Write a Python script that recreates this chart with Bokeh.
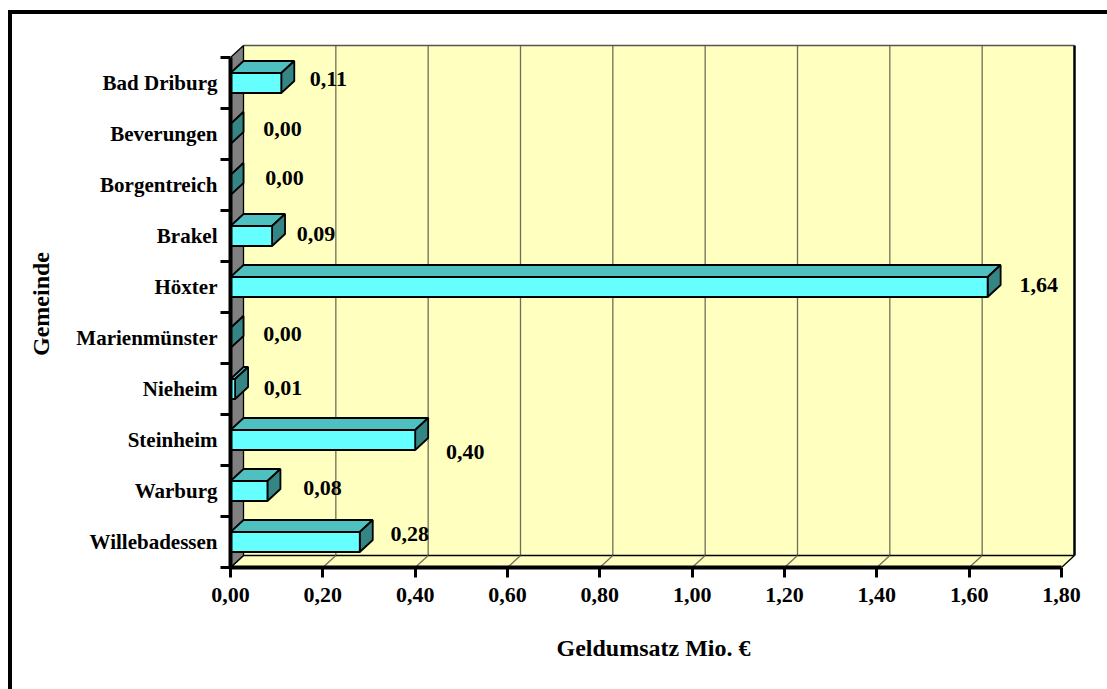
from bokeh.plotting import figure
from bokeh.models import FixedTicker, ColumnDataSource, Range1d
from bokeh.embed import file_html
from bokeh.resources import INLINE

# Data
gemeinden = ["Bad Driburg", "Beverungen", "Borgentreich", "Brakel", "Höxter",
             "Marienmünster", "Nieheim", "Steinheim", "Warburg", "Willebadessen"]
umsatz = [0.11, 0.00, 0.00, 0.09, 1.64, 0.00, 0.01, 0.40, 0.08, 0.28]
x_ticks = [0.0, 0.2, 0.4, 0.6, 0.8, 1.0, 1.2, 1.4, 1.6, 1.8]
x_tick_labels = ["0,00", "0,20", "0,40", "0,60", "0,80", "1,00", "1,20", "1,40", "1,60", "1,80"]

# Label nudges in screen pixels (styling only)
label_dx = [47, 52, 54, 44, 51, 52, 48, 50, 55, 50]
label_dy = [-4, -5, -7, -2, -2, -4, -1, 12, -3, -8]

FONT = "Liberation Serif"
PX_PER_UNIT = 461.67      # horizontal scale of the front plane
PX_PER_CAT = 51.0         # height of one category band
N = len(gemeinden)
XMAX = x_ticks[-1]

DX = 13 / PX_PER_UNIT     # 3-D depth, horizontal part
DY = 12 / PX_PER_CAT      # 3-D depth, vertical part
H = 20 / PX_PER_CAT       # bar thickness

centers = [N - i - 0.5 for i in range(N)]

p = figure(width=1107, height=689, output_backend="svg", toolbar_location=None,
           x_range=Range1d(0, 846 / PX_PER_UNIT), y_range=Range1d(0, N + 17 / PX_PER_CAT),
           min_border_left=230, min_border_right=31, min_border_top=40, min_border_bottom=122)
p.outline_line_color = None
p.background_fill_color = "white"
p.border_fill_color = None
p.xgrid.visible = False
p.ygrid.visible = False
# Black frame lines along the top and left edge of the page
p.styles = {"box-shadow": "inset 8px 10px 0 0 white, inset 12px 14px 0 0 black",
            "background-color": "white"}

# Back wall
p.quad(left=DX, right=XMAX + DX, bottom=DY, top=N + DY, fill_color="#FFFFC0", line_color=None)
# Gridlines on the wall and the floor
gx = x_ticks[1:-1]
p.segment(x0=[t + DX for t in gx], y0=[DY] * len(gx), x1=[t + DX for t in gx], y1=[N + DY] * len(gx),
          line_color="#6f6f5a", line_width=1.3)
# Wall border
p.line(x=[DX, XMAX + DX], y=[N + DY, N + DY], line_color="#555555", line_width=1.5)
p.line(x=[XMAX + DX, XMAX + DX], y=[DY, N + DY], line_color="black", line_width=2.5)
# Floor
p.patch(x=[0, XMAX, XMAX + DX, DX], y=[0, 0, DY, DY], fill_color="#FFFFC0",
        line_color="black", line_width=1.3)
p.segment(x0=gx, y0=[0] * len(gx), x1=[t + DX for t in gx], y1=[DY] * len(gx),
          line_color="#6f6f5a", line_width=1.3)
# Left wall
p.patch(x=[0, DX, DX, 0], y=[0, DY, N + DY, N], fill_color="#808080",
        line_color="black", line_width=1.3)

# Bars: front, top and side faces
top_xs, top_ys, side_xs, side_ys = [], [], [], []
for v, c in zip(umsatz, centers):
    b, t = c - H / 2, c + H / 2
    top_xs.append([0, v, v + DX, DX])
    top_ys.append([t, t, t + DY, t + DY])
    side_xs.append([v, v, v + DX, v + DX])
    side_ys.append([b, t, t + DY, b + DY])

p.patches(xs=top_xs, ys=top_ys, fill_color="#4FC0C0", line_color="black", line_width=1.8)
p.patches(xs=side_xs, ys=side_ys, fill_color="#358585", line_color="black", line_width=1.8)
p.quad(left=[0] * N, right=umsatz, bottom=[c - H / 2 for c in centers],
       top=[c + H / 2 for c in centers], fill_color="#66FFFF", line_color="black", line_width=1.8)

# Value labels
src = ColumnDataSource(dict(x=umsatz, y=centers,
                            txt=[f"{v:.2f}".replace(".", ",") for v in umsatz],
                            dx=label_dx, dy=label_dy))
p.text(x="x", y="y", text="txt", x_offset="dx", y_offset="dy", source=src,
       text_font=FONT, text_font_style="bold", text_font_size="22px",
       text_align="center", text_baseline="middle", text_color="black")

# X axis
xa = p.xaxis[0]
xa.ticker = FixedTicker(ticks=x_ticks)
xa.bounds = (0, XMAX)
xa.major_label_overrides = {t: l for t, l in zip(x_ticks, x_tick_labels)}
xa.axis_line_width = 4
xa.axis_line_color = "black"
xa.major_tick_in = 0
xa.major_tick_out = 10
xa.major_tick_line_width = 3
xa.minor_tick_line_color = None
xa.major_label_standoff = 10
xa.major_label_text_font = FONT
xa.major_label_text_font_style = "bold"
xa.major_label_text_font_size = "22px"
xa.major_label_text_color = "black"
xa.axis_label = "Geldumsatz Mio. €"
xa.axis_label_text_font = FONT
xa.axis_label_text_font_style = "bold"
xa.axis_label_text_font_size = "24px"
xa.axis_label_text_color = "black"
xa.axis_label_standoff = 30

# Y axis
ya = p.yaxis[0]
ya.ticker = FixedTicker(ticks=centers, minor_ticks=list(range(N + 1)))
ya.bounds = (0, N)
ya.major_label_overrides = {c: g for c, g in zip(centers, gemeinden)}
ya.axis_line_width = 4
ya.axis_line_color = "black"
ya.major_tick_line_color = None
ya.major_tick_out = 0
ya.major_tick_in = 0
ya.minor_tick_in = 0
ya.minor_tick_out = 10
ya.minor_tick_line_width = 3
ya.minor_tick_line_color = "black"
ya.major_label_standoff = 3
ya.major_label_text_font = FONT
ya.major_label_text_font_style = "bold"
ya.major_label_text_font_size = "21px"
ya.major_label_text_color = "black"
ya.axis_label = "Gemeinde"
ya.axis_label_text_font = FONT
ya.axis_label_text_font_style = "bold"
ya.axis_label_text_font_size = "24px"
ya.axis_label_text_color = "black"
ya.axis_label_standoff = 19

open("out.html", "w").write(file_html(p, INLINE))
